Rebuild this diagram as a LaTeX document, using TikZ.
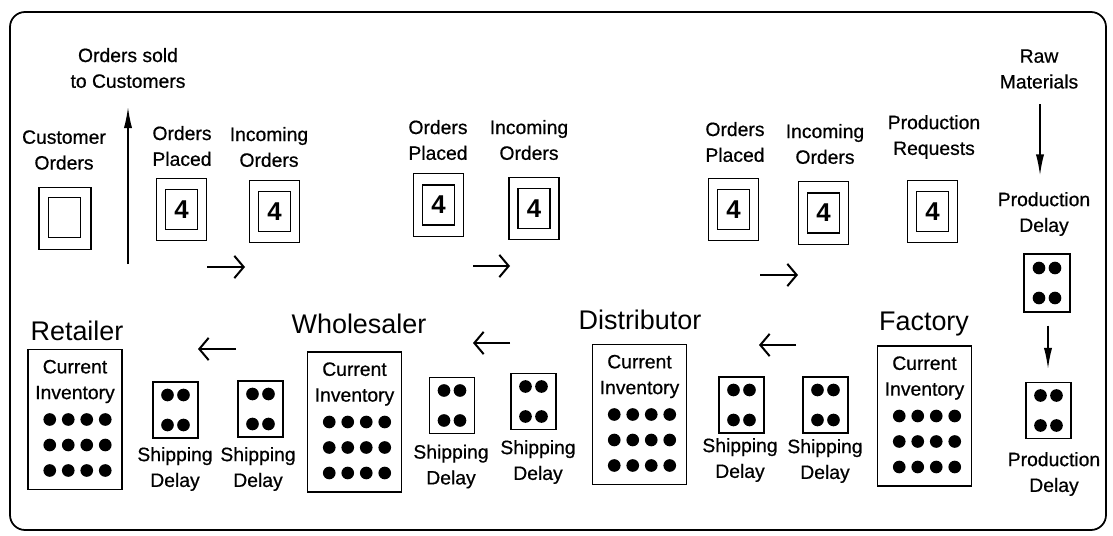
\documentclass[tikz,border=0pt]{standalone}
\usepackage{fontspec}
\setmainfont{Liberation Sans}
\newfontfamily\lblfont{Liberation Sans}[FakeBold=0.6]
\usetikzlibrary{arrows.meta,calc}
\begin{document}
\begin{tikzpicture}[x=0.03cm,y=-0.03cm,
 lbl/.style={align=center,inner sep=0pt,font=\lblfont\fontsize{16.5}{22}\selectfont},
 ttl/.style={inner sep=0pt,font=\fontsize{23}{26}\selectfont},
 outerbox/.style={draw,line width=1.1pt,minimum width=1.5cm,minimum height=1.88cm,inner sep=0pt},
 innerbox/.style={draw,line width=1.1pt,minimum width=0.96cm,minimum height=1.2cm,inner sep=0pt,font=\fontsize{22}{24}\selectfont\bfseries},
 delaybox/.style={draw,line width=1.1pt,minimum width=1.35cm,minimum height=1.68cm,inner sep=0pt},
 invbox/.style={draw,line width=1.1pt,minimum width=2.82cm,minimum height=4.2cm,inner sep=0pt},
 flowarrow/.style={line width=1.7pt,-{Straight Barb[length=8pt,width=19pt]}},
 varrow/.style={line width=1.3pt,-{Latex[length=18pt,width=7pt]}}
]
\useasboundingbox (0,0) rectangle (1113,536);
% frame
\draw[line width=1.5pt,rounded corners=0.45cm] (10,12) rectangle (1106,530);

% customer side
\node[lbl] (sold) at (128,68) {Orders sold\\to Customers};
\coordinate (upstart) at (128,264);
\coordinate (uptip) at (128,107);
\draw[varrow] (upstart) -- (uptip);
\node[lbl] (custl) at (64,150) {Customer\\Orders};
\node[outerbox,minimum width=1.56cm] (custo) at (65,218.5) {};
\node[innerbox] (custi) at (64.5,217.5) {};

% order boxes
\node[lbl] (opl1) at (182,146) {Orders\\Placed};
\node[outerbox] (op1) at (181.5,209.5) {};
\node[innerbox] (op1i) at (op1) {4};
\node[lbl] (inl1) at (269,147) {Incoming\\Orders};
\node[outerbox] (in1) at (274.5,211.5) {};
\node[innerbox] (in1i) at (in1) {4};

\node[lbl] (opl2) at (438,140) {Orders\\Placed};
\node[outerbox] (op2) at (438.5,205) {};
\node[innerbox] (op2i) at (op2) {4};
\node[lbl] (inl2) at (529,140) {Incoming\\Orders};
\node[outerbox] (in2) at (534,208.5) {};
\node[innerbox] (in2i) at (in2) {4};

\node[lbl] (opl3) at (735,142) {Orders\\Placed};
\node[outerbox] (op3) at (733.5,209.5) {};
\node[innerbox] (op3i) at (op3) {4};
\node[lbl] (inl3) at (825,144) {Incoming\\Orders};
\node[outerbox] (in3) at (823.5,213) {};
\node[innerbox] (in3i) at (in3) {4};

\node[lbl] (prl) at (934,137) {Production\\Requests};
\node[outerbox] (pr) at (932.5,211.5) {};
\node[innerbox] (pri) at (pr) {4};

% top arrows
\coordinate (a1s) at (207,267); \coordinate (a1e) at (245,267);
\coordinate (a2s) at (473,266); \coordinate (a2e) at (510,266);
\coordinate (a3s) at (760,275); \coordinate (a3e) at (798,275);
\draw[flowarrow] (a1s) -- (a1e);
\draw[flowarrow] (a2s) -- (a2e);
\draw[flowarrow] (a3s) -- (a3e);

% bottom arrows
\coordinate (b1s) at (236,349); \coordinate (b1e) at (198,349);
\coordinate (b2s) at (510,343); \coordinate (b2e) at (473,343);
\coordinate (b3s) at (796,345); \coordinate (b3e) at (759,345);
\draw[flowarrow] (b1s) -- (b1e);
\draw[flowarrow] (b2s) -- (b2e);
\draw[flowarrow] (b3s) -- (b3e);

% raw materials / production
\node[lbl] (raw) at (1039,69) {Raw\\Materials};
\node[lbl] (pdl1) at (1044,214) {Production\\Delay};
\draw[varrow,shorten <=13pt,shorten >=14pt] (raw.south -| 1040,0) -- (pdl1.north -| 1040,0);
\node[delaybox,minimum width=1.38cm,minimum height=1.74cm] (pd1) at (1047,283) {};
\node[delaybox] (pd2) at (1048.5,410.5) {};
\draw[varrow,shorten <=11pt,shorten >=11pt] (pd1.south -| 1048,0) -- (pd2.north -| 1048,0);
\node[lbl] (pdl2) at (1054,474) {Production\\Delay};

% titles
\node[ttl] (rett) at (77,331) {Retailer};
\node[ttl] (whlt) at (359,324) {Wholesaler};
\node[ttl] (dist) at (640,320) {Distributor};
\node[ttl] (fact) at (924,324) {Factory};

% inventories
\foreach \nm/\cx/\cy in {ret/75/419.5, whl/354.5/422, dis/639.5/414.5, fac/924.5/416}{
  \node[invbox] (\nm) at (\cx,\cy) {};
  \node[lbl] (\nm l) at ($(\nm)+(0,-38)$) {Current\\Inventory};
  \foreach \dx in {-25.25,-6.75,11.75,30.25}
    \foreach \dy in {0,25.5,51}
      \fill ($(\nm)+(\dx,\dy)$) circle[radius=0.19cm];
}

% shipping delays
\foreach \nm/\cx/\cy/\lx/\ly in {rs1/175.5/410/175/469, rs2/260.5/409/258/469, ws1/452/405.5/451/466.5, ws2/533.5/401.5/538/462, ds1/741.5/405/740/460, ds2/825.5/405/825/461}{
  \node[delaybox] (\nm) at (\cx,\cy) {};
  \node[lbl] (\nm l) at (\lx,\ly) {Shipping\\Delay};
}
\foreach \nm in {rs1,rs2,ws1,ws2,ds1,ds2,pd1,pd2}{
  \foreach \dx in {-8,8}
    \foreach \dy in {-15,15}
      \fill ($(\nm)+(\dx,\dy)$) circle[radius=0.19cm];
}
\end{tikzpicture}
\end{document}
